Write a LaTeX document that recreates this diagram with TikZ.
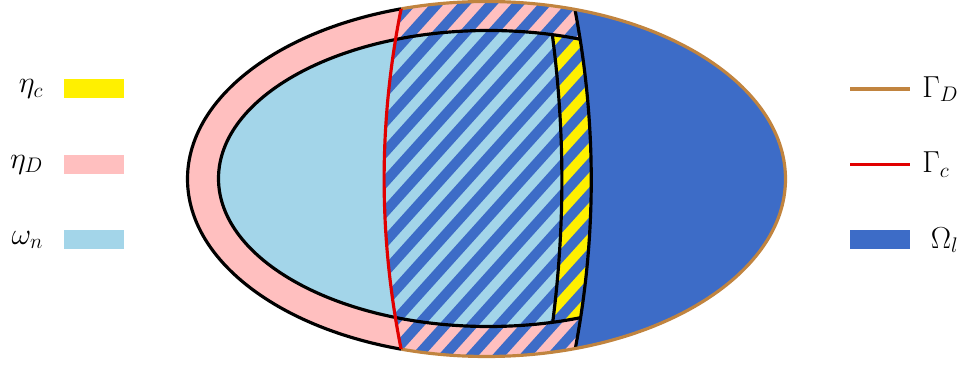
\documentclass[tikz,border=0pt]{standalone}
\usepackage{amsmath}
\usetikzlibrary{positioning}
\definecolor{etaDcol}{HTML}{FFBFBF}
\definecolor{omegancol}{HTML}{A3D5E9}
\definecolor{Omegalcol}{HTML}{3D6CC7}
\definecolor{etaccol}{HTML}{FFF000}
\definecolor{GammaDcol}{HTML}{C1843F}
\definecolor{Gammaccol}{HTML}{E10000}

\begin{document}
\begin{tikzpicture}[line join=round,
  bline/.style={black,line width=1.8pt},
  legbox/.style={minimum width=1.21cm,minimum height=0.38cm,inner sep=0pt},
  legline/.style={line width=2pt},
  lab/.style={font=\LARGE,inner sep=0pt}]
\useasboundingbox (0,0) rectangle (19.28,7.36);
% end and control points of the three cuts
\coordinate (rt) at (8.20,7.98); \coordinate (rb) at (8.20,-0.42);
\coordinate (ra) at (7.51,5.18); \coordinate (rc) at (7.51,2.38);
\coordinate (kt) at (11.33,7.96); \coordinate (kb) at (11.33,-0.44);
\coordinate (ka) at (11.99,5.16); \coordinate (kc) at (11.99,2.36);
\coordinate (it) at (10.96,7.26); \coordinate (ib) at (10.96,0.26);
\coordinate (ia) at (11.33,4.93); \coordinate (ic) at (11.33,2.59);
% subdomains
\fill[etaDcol] (9.73,3.78) ellipse [x radius=5.98,y radius=3.55];
\fill[omegancol] (9.77,3.79) ellipse [x radius=5.40,y radius=2.96];
\begin{scope}
  \clip (9.77,3.79) ellipse [x radius=5.40,y radius=2.96];
  \fill[etaccol] (it) .. controls (ia) and (ic) .. (ib) -- (kb) .. controls (kc) and (ka) .. (kt) -- cycle;
\end{scope}
\begin{scope}
  \clip (9.73,3.78) ellipse [x radius=5.98,y radius=3.55];
  \fill[Omegalcol] (kt) .. controls (ka) and (kc) .. (kb) -- (16,-0.44) -- (16,7.96) -- cycle;
  \clip (rt) .. controls (ra) and (rc) .. (rb) -- (kb) .. controls (kc) and (ka) .. (kt) -- cycle;
  \foreach \s in {-1.5,-0.96,...,13.2}
    \draw[Omegalcol,line width=0.2cm] (\s,-0.5) -- ++(7.65,8.5);
\end{scope}
% boundaries
\begin{scope}
  \clip (kt) .. controls (ka) and (kc) .. (kb) -- (0,-0.44) -- (0,7.96) -- cycle;
  \draw[bline] (9.77,3.79) ellipse [x radius=5.40,y radius=2.96];
\end{scope}
\begin{scope}
  \clip (9.77,3.79) ellipse [x radius=5.40,y radius=2.96];
  \draw[bline] (it) .. controls (ia) and (ic) .. (ib);
\end{scope}
\begin{scope}
  \clip (9.73,3.78) ellipse [x radius=5.98,y radius=3.55];
  \draw[bline] (kt) .. controls (ka) and (kc) .. (kb);
\end{scope}
\begin{scope}
  \clip (rt) .. controls (ra) and (rc) .. (rb) -- (0,-0.42) -- (0,7.98) -- cycle;
  \draw[bline] (9.73,3.78) ellipse [x radius=5.98,y radius=3.55];
\end{scope}
\begin{scope}
  \clip (rt) .. controls (ra) and (rc) .. (rb) -- (16,-0.42) -- (16,7.98) -- cycle;
  \draw[GammaDcol,line width=1.8pt] (9.73,3.78) ellipse [x radius=5.98,y radius=3.55];
\end{scope}
\begin{scope}
  \clip (9.73,3.78) ellipse [x radius=5.98,y radius=3.55];
  \draw[Gammaccol,line width=1.8pt] (rt) .. controls (ra) and (rc) .. (rb);
\end{scope}
% legend, left
\node[legbox,fill=etaccol] (etacbox) at (1.875,5.58) {};
\node[lab,left=0.39cm of etacbox] (etactxt) {$\eta_c$};
\node[legbox,fill=etaDcol] (etaDbox) at (1.875,4.07) {};
\node[lab,left=0.39cm of etaDbox] (etaDtxt) {$\eta_D$};
\node[legbox,fill=omegancol] (omeganbox) at (1.875,2.56) {};
\node[lab,left=0.39cm of omeganbox] (omegantxt) {$\omega_n$};
% legend, right
\coordinate (gDa) at (17.0,5.58); \coordinate (gDb) at (18.2,5.58);
\draw[legline,GammaDcol] (gDa) -- (gDb);
\node[lab,right=0.24cm of gDb] (gDtxt) {$\Gamma_D$};
\coordinate (gca) at (17.0,4.07); \coordinate (gcb) at (18.2,4.07);
\draw[legline,Gammaccol] (gca) -- (gcb);
\node[lab,right=0.24cm of gcb] (gctxt) {$\Gamma_c$};
\node[legbox,fill=Omegalcol] (Omegalbox) at (17.6,2.56) {};
\node[lab,right=0.4cm of Omegalbox] (Omegaltxt) {$\Omega_l$};
\end{tikzpicture}
\end{document}
